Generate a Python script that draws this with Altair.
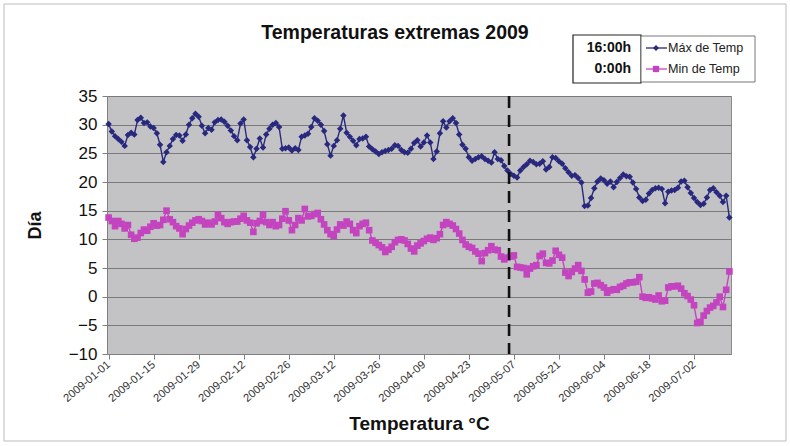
import altair as alt
import pandas as pd

# Daily extreme temperatures, 2009-01-01 .. 2009-07-13
fechas = [d.strftime("%Y-%m-%dT00:00:00Z") for d in pd.date_range("2009-01-01", "2009-07-13", freq="D")]

temp_max = [
    30.1, 28.8, 28.0, 27.5, 27.0, 26.3, 28.2, 28.6, 28.3, 30.8,
    31.2, 30.3, 30.4, 29.7, 29.4, 28.5, 26.5, 23.5, 25.2, 26.3,
    27.5, 28.2, 28.1, 27.2, 28.3, 30.0, 31.1, 31.9, 31.4, 29.8,
    28.5, 29.4, 29.1, 30.4, 30.8, 30.9, 30.5, 29.8, 29.0, 28.0,
    27.3, 30.2, 30.9, 27.3, 26.1, 24.3, 25.8, 27.6, 26.0, 28.3,
    29.3, 30.0, 30.3, 29.6, 25.8, 25.9, 26.0, 25.5, 25.9, 25.6,
    27.9, 28.1, 28.4, 29.6, 31.1, 30.7, 30.0, 28.9, 26.6, 24.6,
    26.3, 27.3, 29.3, 31.6, 28.6, 27.9, 27.2, 26.4, 27.5, 27.6,
    27.9, 26.2, 25.7, 25.3, 24.9, 25.2, 25.4, 25.6, 25.8, 26.4,
    26.3, 25.6, 25.2, 25.1, 25.8, 26.8, 27.3, 26.2, 26.9, 28.1,
    26.9, 24.0, 25.3, 28.5, 30.6, 29.5, 30.6, 31.1, 30.3, 28.3,
    26.5, 25.8, 24.3, 23.7, 24.0, 24.3, 24.5, 24.0, 23.7, 23.4,
    25.2, 24.0, 23.8, 22.8, 22.0, 21.4, 21.1, 20.8, 22.0, 22.6,
    23.1, 23.7, 23.5, 23.1, 23.2, 23.6, 22.2, 22.6, 24.3, 24.2,
    23.6, 23.2, 22.4, 21.7, 21.1, 21.2, 20.7, 19.9, 15.8, 15.9,
    17.2, 18.9, 20.1, 20.6, 20.3, 19.7, 20.1, 19.1, 20.0, 20.7,
    21.3, 21.0, 20.9, 19.9, 18.8, 17.3, 16.7, 16.9, 18.0, 18.6,
    18.9, 19.0, 18.8, 16.3, 18.3, 18.5, 18.6, 19.0, 20.1, 20.2,
    19.1, 18.1, 17.2, 16.5, 16.0, 16.2, 17.3, 18.6, 18.9, 18.2,
    17.6, 16.5, 17.6, 13.8,
]

temp_min = [
    13.8, 13.2, 12.3, 13.2, 12.7, 11.9, 12.5, 10.8, 10.1, 10.3,
    11.1, 11.7, 11.5, 12.2, 12.8, 12.4, 12.5, 13.4, 15.0, 13.5,
    13.0, 12.3, 11.9, 10.9, 11.8, 12.4, 12.9, 13.3, 13.5, 13.2,
    12.6, 12.9, 12.6, 13.1, 14.3, 13.7, 13.0, 12.7, 13.0, 13.1,
    13.1, 13.6, 14.1, 13.3, 12.9, 11.3, 12.8, 13.2, 14.3, 13.0,
    12.5, 13.0, 12.3, 12.5, 13.6, 14.9, 13.3, 11.6, 12.5, 13.7,
    13.3, 15.3, 14.0, 14.1, 14.4, 14.6, 13.5, 12.6, 11.6, 10.9,
    10.6, 11.7, 12.6, 12.4, 13.1, 12.7, 11.6, 11.1, 12.3, 12.7,
    12.9, 11.6, 9.8, 9.4, 9.0, 8.6, 7.8, 8.2, 8.7, 9.5,
    9.9, 10.0, 9.8, 9.2, 8.4, 7.9, 8.9, 9.3, 9.7, 10.1,
    10.3, 9.9, 10.2, 10.9, 12.5, 13.0, 12.7, 12.4, 11.8, 11.0,
    9.9, 9.1, 8.7, 8.5, 7.9, 7.5, 6.2, 7.6, 8.1, 8.8,
    8.2, 8.1, 7.0, 6.5, 6.8, 7.0, 7.2, 5.2, 5.1, 5.0,
    3.9, 4.9, 5.3, 5.5, 7.1, 7.5, 5.9, 5.8, 6.3, 8.0,
    7.3, 6.8, 4.2, 3.6, 4.3, 4.9, 5.5, 4.5, 3.0, 0.7,
    0.9, 2.3, 2.4, 2.0, 1.6, 0.7, 1.1, 1.3, 1.2, 1.7,
    1.9, 2.3, 2.5, 2.5, 2.6, 3.4, 0.0, -0.2, -0.1, -0.3,
    -0.5, 0.2, -0.8, -0.7, 1.6, 1.8, 1.8, 1.9, 1.4, 0.6,
    0.1, -0.5, -1.5, -4.6, -4.4, -3.3, -2.5, -1.9, -1.6, -1.0,
    0.0, -1.8, 1.2, 4.4,
]

# Axis ticks every 14 days
ticks_x = [d.strftime("%Y-%m-%d") for d in pd.date_range("2009-01-01", "2009-07-02", freq="14D")]
ticks_y = [-10, -5, 0, 5, 10, 15, 20, 25, 30, 35]
fecha_marca = "2009-05-05T12:00:00Z"

FONT = "Liberation Sans"
AZUL = "#28287E"
MAGENTA = "#C444C0"

df_max = pd.DataFrame({"fecha": fechas, "temp": temp_max})
df_min = pd.DataFrame({"fecha": fechas, "temp": temp_min})


def dt(s, h=0):
    y, m, d = (int(p) for p in s.split("-"))
    return alt.DateTime(year=y, month=m, date=d, hours=h, utc=True)


x_scale = alt.Scale(type="utc", domain=[dt("2008-12-31", 12), dt("2009-07-13", 12)])
y_scale = alt.Scale(domain=[-10, 35], nice=False)

x_enc = alt.X(
    "fecha:T",
    scale=x_scale,
    axis=alt.Axis(
        values=[dt(t) for t in ticks_x],
        format="%Y-%m-%d",
        labelAngle=-40,
        labelAlign="right",
        labelBaseline="middle",
        labelFontSize=11.2,
        labelColor="#333333",
        labelPadding=4,
        tickSize=5,
        tickColor="#808080",
        domainColor="#808080",
        grid=False,
        title="Temperatura °C",
        titleFontSize=19,
        titleFontWeight="bold",
        titleColor="#111111",
        titleX=312,
        titleY=69,
        titleAlign="center",
        titleBaseline="middle",
        labelFlush=False,
        labelOverlap=False,
    ),
)
y_enc = alt.Y(
    "temp:Q",
    scale=y_scale,
    axis=alt.Axis(
        values=ticks_y,
        labelFontSize=17,
        labelColor="#111111",
        labelPadding=5,
        tickSize=5,
        tickColor="#808080",
        domainColor="#808080",
        grid=True,
        gridColor="#7A7A7A",
        gridWidth=1,
        title="Día",
        titleFontSize=18,
        titleFontWeight="bold",
        titleColor="#111111",
        titleAngle=270,
        titleX=-72,
        titleY=129,
        titleAlign="center",
        titleBaseline="middle",
    ),
)

linea_max = alt.Chart(df_max).mark_line(
    color=AZUL, strokeWidth=1.4,
    point=alt.OverlayMarkDef(shape="diamond", filled=True, size=42, color=AZUL),
).encode(x=x_enc, y=y_enc)

linea_min = alt.Chart(df_min).mark_line(
    color=MAGENTA, strokeWidth=1.4,
    point=alt.OverlayMarkDef(shape="square", filled=True, size=44, color=MAGENTA),
).encode(x=x_enc, y=y_enc)

marca = alt.Chart(pd.DataFrame({"fecha": [fecha_marca]})).mark_rule(
    color="#111111", strokeWidth=2.6, strokeDash=[12, 7]
).encode(x=alt.X("fecha:T", scale=x_scale))

uno = pd.DataFrame({"k": [0]})


def texto(t, x, y, size, weight="normal", align="left", color="#111111"):
    return alt.Chart(uno).mark_text(
        text=t, font=FONT, fontSize=size, fontWeight=weight, color=color,
        align=align, baseline="middle",
    ).encode(x=alt.value(x), y=alt.value(y))


# Outer frame of the chart area
marco = alt.Chart(uno).mark_rect(fill="transparent", stroke="#BBBBBB", strokeWidth=1).encode(
    x=alt.value(-103), x2=alt.value(679), y=alt.value(-92), y2=alt.value(345)
)

titulo = texto("Temperaturas extremas 2009", 288, -63, 19.5, "bold", "center")

# Legend: hour box + series box
caja_horas = alt.Chart(uno).mark_rect(fill="white", stroke="#222222", strokeWidth=1.2).encode(
    x=alt.value(466), x2=alt.value(534), y=alt.value(-61), y2=alt.value(-13)
)
caja_series = alt.Chart(uno).mark_rect(fill="white", stroke="#777777", strokeWidth=1).encode(
    x=alt.value(534), x2=alt.value(648), y=alt.value(-60), y2=alt.value(-14)
)
hora1 = texto("16:00h", 524, -48, 14, "bold", "right")
hora2 = texto("0:00h", 524, -27, 14, "bold", "right")

leg_l1 = alt.Chart(uno).mark_rule(color=AZUL, strokeWidth=1.3).encode(
    x=alt.value(539), x2=alt.value(560), y=alt.value(-48)
)
leg_l2 = alt.Chart(uno).mark_rule(color=MAGENTA, strokeWidth=1.3).encode(
    x=alt.value(539), x2=alt.value(560), y=alt.value(-27)
)
leg_max = alt.Chart(uno).mark_point(shape="diamond", filled=True, size=36, color=AZUL, opacity=1).encode(
    x=alt.value(549), y=alt.value(-48)
)
leg_min = alt.Chart(uno).mark_point(shape="square", filled=True, size=40, color=MAGENTA, opacity=1).encode(
    x=alt.value(549), y=alt.value(-27)
)
leg_t1 = texto("Máx de Temp", 561, -48, 12.6, color="#222222")
leg_t2 = texto("Min de Temp", 561, -27, 12.6, color="#222222")

chart = alt.layer(
    marco, linea_max, linea_min, marca, titulo,
    caja_horas, caja_series, hora1, hora2,
    leg_l1, leg_l2, leg_max, leg_min, leg_t1, leg_t2,
).properties(
    width=624,
    height=258,
    autosize=alt.AutoSizeParams(type="none"),
    padding={"left": 107, "top": 96, "right": 59, "bottom": 92},
    background="white",
).configure_view(
    fill="#C3C3C6", stroke="#8C8C8C", strokeWidth=1
).configure_axis(
    labelFont=FONT, titleFont=FONT
).configure_text(font=FONT)

chart.save("out.html", embed_options={"renderer": "svg", "actions": False})
